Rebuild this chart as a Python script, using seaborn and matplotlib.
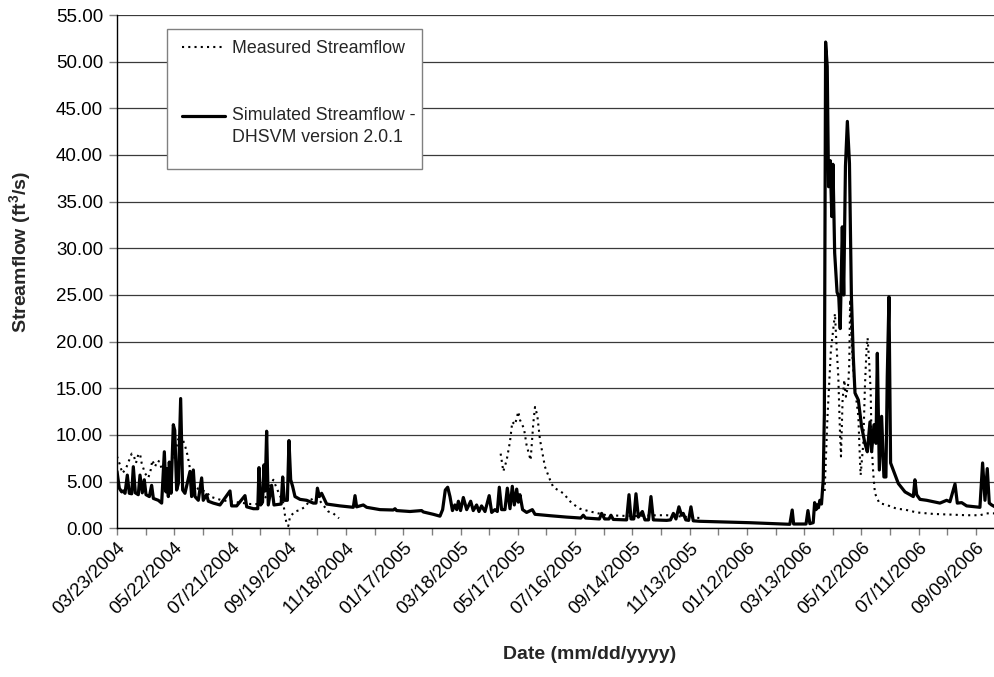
import numpy as np
import pandas as pd
import matplotlib
matplotlib.use("Agg")
import matplotlib.pyplot as plt
import matplotlib.dates as mdates
from matplotlib.lines import Line2D
from matplotlib.patches import Rectangle
from matplotlib.ticker import FixedLocator, FuncFormatter
from matplotlib.legend_handler import HandlerLine2D
import seaborn as sns

# ---------------- data (days after 03/23/2004, streamflow ft3/s) ----------------
start_date = "2004-03-23"
end_day = 920

sim_day = [0, 2.4, 4.9, 6.6, 8.4, 10.8, 12.9, 15.4, 17.1, 19.2, 22.3, 24.1, 26.5, 28.6, 30.4,
           33.9, 36.3, 38.1, 43.3, 46.8, 49.6, 51.3, 52.7, 53.8, 54.8, 56.6, 59.0, 60.5, 62.5,
           64.3, 66.7, 68.8, 71.2, 76.5, 78.2, 80.0, 81.7, 85.2, 88.7, 90.4, 93.9, 95.7, 100.9,
           107.9, 118.4, 120.1, 125.4, 134.1, 135.9, 142.9, 147.5, 148.8, 150.5, 152.5, 154.0,
           155.2, 156.8, 158.5, 162.0, 164.5, 172.0, 173.6, 175.3, 178.5, 180.2, 182.0, 184.0,
           186.5, 191.8, 198.7, 205.7, 208.5, 210.0, 212.0, 214.4, 216.9, 219.7, 233.7, 247.6,
           249.4, 251.1, 258.1, 261.6, 275.6, 289.5, 291.3, 293.0, 307.0, 319.2, 321.0, 331.4,
           338.4, 341.2, 344.0, 346.5, 348.9, 351.5, 354.0, 356.0, 357.7, 360.0, 362.9, 366.4,
           370.6, 373.3, 376.8, 379.3, 382.0, 385.6, 390.0, 392.6, 396.0, 398.5, 400.6, 403.0,
           406.5, 409.0, 411.8, 414.2, 416.3, 418.8, 420.5, 422.2, 425.0, 429.2, 435.2, 438.0,
           453.7, 471.2, 486.0, 488.6, 491.0, 505.5, 507.8, 511.0, 515.5, 517.6, 520.0, 534.0,
           536.5, 538.6, 541.5, 543.8, 546.3, 550.5, 553.2, 557.0, 559.5, 562.0, 576.0, 580.0,
           583.0, 585.7, 588.8, 591.6, 593.3, 596.0, 599.0, 601.4, 603.8, 610.8, 663.0, 698.0,
           705.0, 707.5, 709.0, 722.0, 724.0, 726.0, 729.5, 731.0, 732.5, 733.8, 735.0, 736.5,
           738.2, 740.0, 741.2, 742.5, 744.2, 745.6, 747.3, 749.0, 750.2, 752.0, 754.5, 756.3,
           757.8, 760.0, 761.5, 763.3, 765.3, 767.5, 769.5, 771.5, 773.3, 776.8, 780.2, 783.7,
           786.2, 789.0, 790.7, 793.2, 795.3, 796.7, 798.8, 801.2, 803.6, 805.7, 807.1, 808.9,
           810.6, 813.4, 816.2, 818.7, 825.7, 830.9, 834.4, 836.1, 837.9, 841.4, 848.4, 862.3,
           869.3, 872.8, 878.1, 880.5, 885.1, 890.3, 904.2, 907.0, 909.5, 911.9, 914.0, 916.5,
           920.0]
sim_flow = [6.1, 4.3, 3.9, 4.0, 3.75, 5.7, 3.75, 3.7, 6.6, 3.8, 3.6, 5.7, 3.8, 5.2, 3.6,
            3.4, 4.6, 3.2, 3.0, 2.7, 8.2, 3.9, 6.4, 3.4, 7.1, 3.75, 11.1, 10.5, 4.1,
            4.8, 13.9, 4.1, 3.75, 6.1, 3.4, 6.25, 3.4, 3.0, 5.4, 3.0, 3.6, 2.9, 2.7,
            2.5, 4.0, 2.4, 2.4, 3.5, 2.3, 2.1, 2.1, 6.5, 2.5, 2.8, 6.8,
            4.0, 10.4, 2.5, 4.6, 2.5, 2.6, 5.5, 3.0, 3.0, 9.4, 5.2, 4.5,
            3.4, 3.1, 3.0, 2.7, 2.7, 4.3, 3.4, 3.75, 3.2, 2.6, 2.4, 2.25,
            3.5, 2.3, 2.5, 2.25, 2.0, 1.96, 2.1, 1.9, 1.8, 1.9, 1.75, 1.5,
            1.3, 2.0, 4.1, 4.4, 3.4, 1.9, 2.5, 2.0, 2.9, 1.9, 3.3, 2.0,
            2.9, 1.9, 2.5, 1.8, 2.4, 1.8, 3.5, 1.7, 2.0, 1.8, 4.4, 2.0,
            2.0, 4.3, 2.1, 4.5, 2.5, 4.2, 2.8, 3.6, 2.0, 1.7, 2.0, 1.5,
            1.35, 1.2, 1.1, 1.4, 1.1, 1.0, 1.6, 1.0, 1.0, 1.4, 0.95, 0.9,
            3.6, 1.0, 1.0, 3.7, 1.2, 1.8, 0.9, 0.9, 3.4, 0.9, 0.85, 0.9,
            1.6, 1.0, 2.3, 1.4, 1.6, 0.9, 0.85, 2.3, 0.8, 0.75, 0.6, 0.46,
            0.43, 1.96, 0.46, 0.46, 1.9, 0.5, 0.6, 2.75, 2.0, 2.5, 2.2, 3.0,
            2.6, 5.2, 12.3, 52.1, 49.5, 36.6, 39.4, 33.4, 39.0, 29.5, 25.3, 24.8,
            21.4, 32.3, 25.0, 38.8, 43.6, 39.1, 25.0, 18.4, 14.5, 13.75, 10.9, 9.1,
            8.2, 11.4, 8.2, 11.1, 9.1, 18.75, 6.25, 12.0, 5.5, 5.5, 16.25, 24.8,
            7.0, 6.25, 5.5, 4.8, 3.9, 3.6, 3.4, 5.2, 3.6, 3.1, 3.0, 2.7,
            3.0, 2.85, 4.75, 2.7, 2.75, 2.4, 2.25, 7.0, 3.0, 6.4, 2.7, 2.5,
            2.3]

# measured streamflow, three periods of record (gaps in winter)
obs1_day = [0, 3.1, 5.6, 8.4, 10.1, 15.4, 17.8, 19.9, 22.3, 24.1, 25.8, 29.3, 32.8, 35.3, 37.0,
            39.8, 42.6, 45.1, 46.8, 50, 55, 60, 64, 67, 71.2, 73.7, 75.8, 78.2, 85.2, 93.9, 97.4,
            110, 125, 140, 150, 157, 160, 163.8, 167.3, 174.3, 176.0, 177.8, 179.5, 181.3, 186.5,
            191.8, 197.0, 202.2, 209.2, 214.4, 221.4, 226.6, 232.6]
obs1_flow = [7.7, 6.8, 5.9, 6.25, 6.6, 8.0, 7.7, 7.0, 7.9, 8.0, 7.0, 5.9, 5.4, 6.25, 7.3,
             6.6, 7.25, 7.1, 6.25, 6.0, 6.5, 7.5, 9.5, 10.0, 8.9, 7.9, 6.8, 5.0, 4.2, 3.9, 3.4,
             3.0, 2.8, 2.6, 2.6, 3.5, 4.5, 5.2, 4.3, 2.7, 1.4, 0.46, 0.25, 1.25, 1.8,
             1.96, 2.3, 3.0, 3.4, 2.7, 1.8, 1.6, 1.07]
obs2_day = [402, 404.8, 408.3, 411.8, 414.2, 417, 420.5, 422.3, 426.4, 429.2, 433.4, 436.2, 438,
            440.4, 443.2, 448.4, 453.7, 457.2, 467.7, 476.4, 485.1, 495.6, 513, 541, 565.4, 576,
            610.9]
obs2_flow = [8.0, 6.1, 7.3, 9.3, 11.4, 11.1, 12.5, 11.6, 10.7, 8.9, 7.3, 11.25, 13.0,
             12.1, 9.5, 6.6, 5.2, 4.4, 3.75, 2.7, 2.1, 1.8, 1.4, 1.3, 1.4, 1.4,
             1.1]
obs3_day = [741.5, 744.5, 748, 752.3, 754, 755.8, 757.5, 758.6, 760.3, 762.1, 763.8, 766.3, 767.3,
            768.2, 769.8, 771.5, 773.3, 776.8, 778.5, 779.2, 782, 783.7, 785.5, 786.5, 788.2,
            789.7, 790.7, 792.4, 794.2, 798.8, 806.5, 817, 825.7, 837.9, 855.3, 890.2, 904.2,
            911.2, 920]
obs3_flow = [4.0, 12.0, 19.0, 23.0, 19.5, 16.25, 10.5, 7.7, 13.75, 15.9, 14.1, 15.5, 17.7,
             24.5, 20.0, 17.0, 15.0, 12.0, 7.3, 5.7, 9.1, 15.2, 19.5, 20.4, 17.7,
             14.8, 9.1, 5.9, 3.75, 2.7, 2.5, 2.1, 2.0, 1.7, 1.54, 1.4, 1.4,
             1.6, 1.6]

y_ticks = [0, 5, 10, 15, 20, 25, 30, 35, 40, 45, 50, 55]
label_every_days = 60
tick_every_days = 30

legend_labels = ["Measured Streamflow", "Simulated Streamflow -\nDHSVM version 2.0.1"]
x_title = "Date (mm/dd/yyyy)"
y_title = "Streamflow (ft$^{3}$/s)"

# ---------------- build frames ----------------
start = pd.Timestamp(start_date)
sim = pd.DataFrame({"date": start + pd.to_timedelta(sim_day, unit="D"), "flow": sim_flow})
obs = pd.concat([
    pd.DataFrame({"date": start + pd.to_timedelta(d, unit="D"), "flow": f, "seg": i})
    for i, (d, f) in enumerate([(obs1_day, obs1_flow), (obs2_day, obs2_flow), (obs3_day, obs3_flow)])
], ignore_index=True)

# ---------------- style ----------------
sns.set_theme(style="white")
plt.rcParams["font.family"] = ["Liberation Sans", "DejaVu Sans"]
plt.rcParams["mathtext.default"] = "regular"

fig = plt.figure(figsize=(9.95, 6.77), dpi=100)
W, H = 995, 677
L, R, T, B = 117, 995, 15, 528.3
ax = fig.add_axes([L / W, 1 - B / H, (R - L) / W, (B - T) / H])


def ax_x(px):
    return (px - L) / (R - L)


def ax_y(py):
    return (B - py) / (B - T)


dotted = (0, (1, 2))
sns.lineplot(data=obs, x="date", y="flow", units="seg", estimator=None, color="black",
             lw=1.5, linestyle=dotted, ax=ax, legend=False, sort=True)
sns.lineplot(data=sim, x="date", y="flow", estimator=None, color="black", lw=2.3,
             ax=ax, legend=False, sort=True)

# axes limits / ticks
x0 = mdates.date2num(start)
ax.set_xlim(x0, x0 + end_day)
ax.set_ylim(0, 55)
ax.yaxis.set_major_locator(FixedLocator(y_ticks))
ax.yaxis.set_major_formatter(FuncFormatter(lambda v, p: f"{v:.2f}"))

major = [x0 + d for d in range(0, end_day + 1, label_every_days)]
minor = [x0 + d for d in range(tick_every_days, end_day + 1, label_every_days)]
ax.xaxis.set_major_locator(FixedLocator(major))
ax.xaxis.set_minor_locator(FixedLocator(minor))
ax.xaxis.set_major_formatter(mdates.DateFormatter("%m/%d/%Y"))

ax.tick_params(axis="x", which="both", direction="out", length=5, width=1, color="#808080",
               bottom=True, labelsize=13.5, pad=3, labelcolor="black")
ax.tick_params(axis="y", which="major", direction="out", length=6, width=1, color="#808080",
               left=True, labelsize=13.5, pad=4, labelcolor="black")
for lab in ax.get_xticklabels():
    lab.set_rotation(45)
    lab.set_ha("right")
    lab.set_rotation_mode("anchor")

ax.yaxis.grid(True, color="#3a3a3a", lw=0.9)
ax.xaxis.grid(False)
ax.set_axisbelow(True)
for s in ["top", "right"]:
    ax.spines[s].set_visible(False)
for s in ["left", "bottom"]:
    ax.spines[s].set_color("black")
    ax.spines[s].set_linewidth(1.0)

ax.set_xlabel(x_title, fontsize=14, fontweight="bold")
ax.set_ylabel(y_title, fontsize=14, fontweight="bold")
ax.xaxis.set_label_coords(ax_x(590), ax_y(646))
ax.yaxis.set_label_coords(ax_x(33), ax_y(252))


class UpHandler(HandlerLine2D):
    def __init__(self, shift=0.0, **kw):
        super().__init__(**kw)
        self.shift = shift

    def create_artists(self, legend, orig_handle, xdescent, ydescent, width, height,
                       fontsize, trans):
        arts = super().create_artists(legend, orig_handle, xdescent, ydescent, width,
                                      height, fontsize, trans)
        for a in arts:
            a.set_ydata(np.asarray(a.get_ydata(), dtype=float) + self.shift * fontsize)
        return arts


# legend frame
ax.add_patch(Rectangle((ax_x(167), ax_y(169)), ax_x(422) - ax_x(167), ax_y(29) - ax_y(169),
                       transform=ax.transAxes, facecolor="white", edgecolor="#808080",
                       lw=1.0, zorder=4))

h_obs = Line2D([], [], color="black", lw=1.5, linestyle=dotted)
h_sim = Line2D([], [], color="black", lw=2.3)
leg = ax.legend([h_obs, h_sim], legend_labels, loc="upper left",
                bbox_to_anchor=(ax_x(182), ax_y(40)),
                borderaxespad=0, borderpad=0, frameon=False, fontsize=12.8,
                labelspacing=2.8, handlelength=2.4, handletextpad=0.39,
                handler_map={h_sim: UpHandler(shift=0.62)})
leg.set_zorder(5)
for t in leg.get_texts():
    t.set_linespacing(1.38)

fig.savefig("out.png", dpi=100)
